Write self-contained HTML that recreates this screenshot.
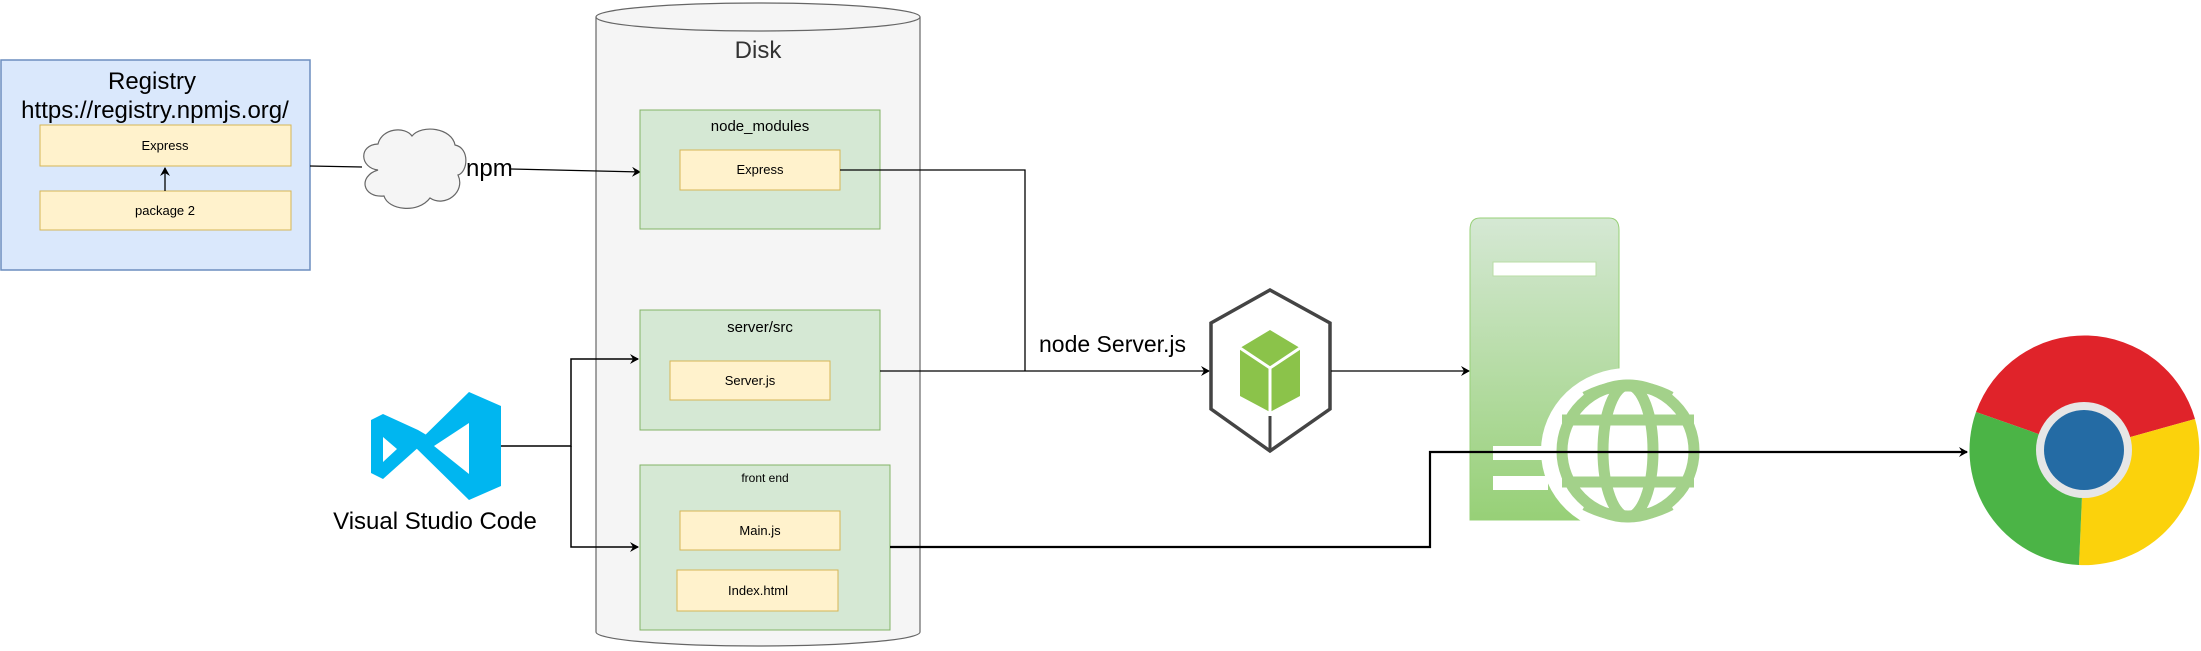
<!DOCTYPE html>
<html><head><meta charset="utf-8"><style>
body{margin:0;background:#fff;}
svg{display:block;font-family:"Liberation Sans",Arial,sans-serif;}
</style></head><body>
<svg width="2201" height="651" viewBox="0 0 2201 651" xmlns="http://www.w3.org/2000/svg">
<defs>
<marker id="ar" markerWidth="10" markerHeight="10" refX="8" refY="5" orient="auto" markerUnits="userSpaceOnUse">
<path d="M0,0 L9,5 L0,10 L3,5 z" fill="#000"/></marker>
<linearGradient id="sg" x1="0" y1="0" x2="0" y2="1">
<stop offset="0" stop-color="#d5e8d4"/><stop offset="1" stop-color="#97d077"/></linearGradient>
</defs>

<!-- Registry -->
<rect x="1" y="60" width="309" height="210" fill="#dae8fc" stroke="#6c8ebf" stroke-width="1.5"/>
<text x="152" y="89" font-size="24" text-anchor="middle" fill="#000">Registry</text>
<text x="155" y="118" font-size="24" text-anchor="middle" fill="#000">https://registry.npmjs.org/</text>
<rect x="40" y="125" width="251" height="41" fill="#fff2cc" stroke="#d6b656"/>
<text x="165" y="150" font-size="13" text-anchor="middle">Express</text>
<rect x="40" y="191" width="251" height="39" fill="#fff2cc" stroke="#d6b656"/>
<text x="165" y="215" font-size="13" text-anchor="middle">package 2</text>
<line x1="165" y1="191" x2="165" y2="168" stroke="#000" stroke-width="1.3" marker-end="url(#ar)"/>

<!-- registry to cloud -->
<line x1="310" y1="166" x2="362" y2="167" stroke="#000" stroke-width="1.3"/>
<!-- cloud -->
<path d="M378,170 C360,168 358,145 378,144 C382,128 405,126 412,136 C422,124 452,128 455,145 C470,148 468,172 458,175 C466,192 445,208 430,198 C418,214 388,210 384,196 C362,198 358,176 378,170 Z" fill="#f5f5f5" stroke="#666" stroke-width="1.2"/>
<text x="466" y="176" font-size="24">npm</text>

<!-- Disk cylinder -->
<path d="M596,17 L596,632 A162,14 0 0 0 920,632 L920,17" fill="#f5f5f5" stroke="#666" stroke-width="1.2"/>
<ellipse cx="758" cy="17" rx="162" ry="14" fill="#f5f5f5" stroke="#666" stroke-width="1.2"/>
<text x="758" y="58" font-size="24" text-anchor="middle" fill="#333">Disk</text>

<line x1="511" y1="169" x2="640" y2="172" stroke="#000" stroke-width="1.3" marker-end="url(#ar)"/>

<!-- node_modules -->
<rect x="640" y="110" width="240" height="119" fill="#d5e8d4" stroke="#82b366"/>
<text x="760" y="131" font-size="15" text-anchor="middle">node_modules</text>
<rect x="680" y="150" width="160" height="40" fill="#fff2cc" stroke="#d6b656"/>
<text x="760" y="174" font-size="13" text-anchor="middle">Express</text>

<!-- server/src -->
<rect x="640" y="310" width="240" height="120" fill="#d5e8d4" stroke="#82b366"/>
<text x="760" y="332" font-size="15" text-anchor="middle">server/src</text>
<rect x="670" y="361" width="160" height="39" fill="#fff2cc" stroke="#d6b656"/>
<text x="750" y="385" font-size="13" text-anchor="middle">Server.js</text>

<!-- front end -->
<rect x="640" y="465" width="250" height="165" fill="#d5e8d4" stroke="#82b366"/>
<text x="765" y="482" font-size="12" text-anchor="middle">front end</text>
<rect x="680" y="511" width="160" height="39" fill="#fff2cc" stroke="#d6b656"/>
<text x="760" y="535" font-size="13" text-anchor="middle">Main.js</text>
<rect x="677" y="570" width="161" height="41" fill="#fff2cc" stroke="#d6b656"/>
<text x="758" y="595" font-size="13" text-anchor="middle">Index.html</text>

<!-- VS Code icon -->
<g fill="#00b6f0">
<path d="M469,392 L501,406 L501,486 L469,500 L414,446 Z M469,423 L434,446 L469,474 Z" fill-rule="evenodd"/>
<path d="M383,414 L371,420 L371,473 L383,479 L430,437 L418,430 Z M383,437 L383,462 L397,449 Z" fill-rule="evenodd"/>
</g>
<text x="435" y="529" font-size="24" text-anchor="middle">Visual Studio Code</text>

<!-- VSCode connectors -->
<polyline points="501,446 571,446 571,359 638,359" fill="none" stroke="#000" stroke-width="1.5" marker-end="url(#ar)"/>
<polyline points="571,446 571,547 638,547" fill="none" stroke="#000" stroke-width="1.5" marker-end="url(#ar)"/>

<!-- Express to node -->
<polyline points="840,170 1025,170 1025,371" fill="none" stroke="#000" stroke-width="1.3"/>
<line x1="880" y1="371" x2="1209" y2="371" stroke="#000" stroke-width="1.3" marker-end="url(#ar)"/>
<text x="1039" y="352" font-size="23">node Server.js</text>

<!-- Node icon -->
<g>
<polygon points="1270,290 1330,323 1330,409 1270,451 1211,409 1211,323" fill="#fff" stroke="#444" stroke-width="3.5"/>
<polygon points="1270,330 1300,348 1300,396 1270,412 1240,396 1240,348" fill="#8bc34a"/>
<polyline points="1240,348 1270,368 1300,348" fill="none" stroke="#fff" stroke-width="3"/>
<line x1="1270" y1="368" x2="1270" y2="412" stroke="#fff" stroke-width="3"/>
<line x1="1270" y1="416" x2="1270" y2="451" stroke="#444" stroke-width="3"/>
</g>
<line x1="1331" y1="371" x2="1469" y2="371" stroke="#000" stroke-width="1.3" marker-end="url(#ar)"/>

<!-- Server icon -->
<g>
<path d="M1480,218 L1609,218 Q1619,218 1619,230 L1619,520 L1470,520 L1470,230 Q1470,218 1480,218 Z" fill="url(#sg)" stroke="#97d077"/>
<rect x="1493" y="262" width="103" height="14" fill="#fff" stroke="#b9dca6"/>
<ellipse cx="1628" cy="451" rx="87" ry="83" fill="#fff"/>
<rect x="1493" y="446" width="55" height="14" fill="#fff"/>
<rect x="1493" y="476" width="55" height="14" fill="#fff"/>
<g fill="none" stroke="#a3d18a" stroke-width="11">
<ellipse cx="1628" cy="451" rx="66" ry="66"/>
<ellipse cx="1628" cy="451" rx="25" ry="66"/>
<line x1="1562" y1="420" x2="1694" y2="420"/>
<line x1="1562" y1="482" x2="1694" y2="482"/>
<path d="M1585,397 Q1628,375 1671,397"/>
<path d="M1585,505 Q1628,527 1671,505"/>
</g>
</g>

<!-- front end to chrome -->
<polyline points="890,547 1430,547 1430,452 1967,452" fill="none" stroke="#000" stroke-width="2.2" marker-end="url(#ar)"/>

<!-- Chrome -->
<g transform="translate(2084,450)">
<path d="M0,0 L-108,-38 A115,115 0 0 1 111,-31 Z" fill="#e0232a"/>
<path d="M0,0 L111,-31 A115,115 0 0 1 -5,115 Z" fill="#fbd20c"/>
<path d="M0,0 L-5,115 A115,115 0 0 1 -108,-38 Z" fill="#4bb446"/>
<circle r="48" fill="#e6e6e6"/>
<circle r="40" fill="#246ba4"/>
</g>
</svg>
</body></html>
